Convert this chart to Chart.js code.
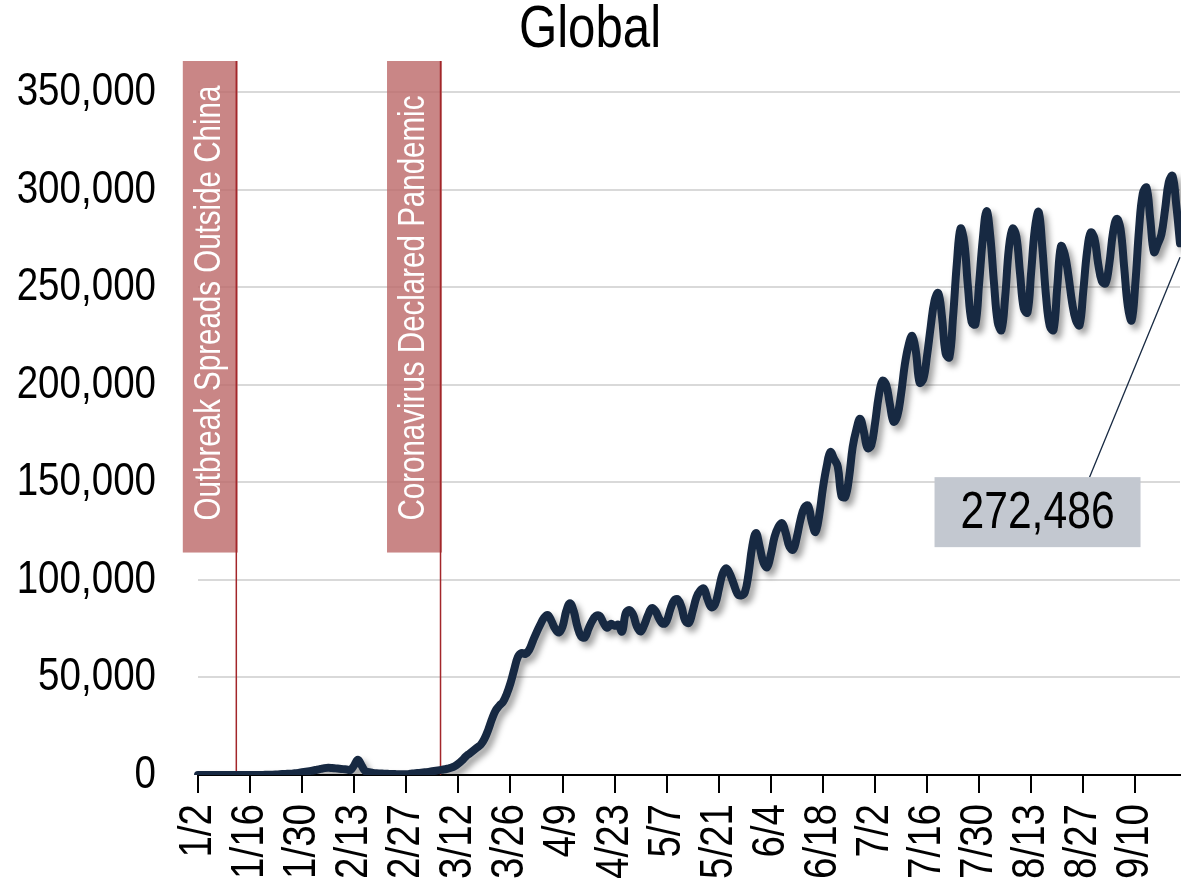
<!DOCTYPE html>
<html>
<head>
<meta charset="utf-8">
<script src="https://cdn.jsdelivr.net/npm/chart.js@4.4.0/dist/chart.umd.min.js"></script>
<style>
  html, body { margin: 0; padding: 0; background: #fff; overflow: hidden; }
  #wrap { width: 1181px; height: 882px; }
</style>
</head>
<body>
<div id="wrap"><canvas id="c" width="1181" height="882"></canvas></div>
<script>
// Daily new cases, global, one value per day starting 2020-01-02
const startDate = [2020, 0, 2];
const dailyCases = [
  0, 0, 0, 0, 0, 0, 0, 0, 0, 0,
  0, 0, 0, 0, 0, 0, 0, 0, 100, 150,
  150, 250, 400, 500, 600, 700, 900, 1100, 1400, 1700,
  2000, 2300, 2700, 3100, 3500, 3700, 3600, 3400, 3200, 3000,
  2800, 2600, 5000, 7800, 4800, 1900, 1400, 1100, 900, 800,
  700, 600, 500, 450, 400, 400, 450, 600, 800, 1000,
  1200, 1400, 1600, 1900, 2200, 2500, 2800, 3200, 3700, 4500,
  5800, 7500, 9500, 11000, 12500, 14000, 15500, 18500, 23000, 28500,
  33000, 35500, 37500, 41500, 47000, 54000, 60500, 62500, 62000, 64000,
  68500, 73000, 77000, 80500, 82000, 79000, 75000, 73000, 76000, 84000,
  88000, 84000, 76000, 71000, 70500, 75000, 79000, 81500, 81500, 78000,
  75500, 77500, 76500, 77000, 73500, 83000, 84500, 82000, 76000, 73500,
  77000, 82000, 85500, 84000, 80000, 77500, 79000, 85000, 89500, 90000,
  86000, 79000, 78000, 84000, 91000, 94500, 95500, 90000, 86000, 87500,
  95000, 103000, 106000, 103000, 98000, 93000, 92000, 93500, 103000, 117000,
  124000, 117000, 109000, 106500, 113000, 122000, 127000, 129000, 124000, 117000,
  115500, 122000, 131000, 137000, 138000, 130000, 124500, 133000, 147000, 158000,
  165500, 162000, 158000, 143000, 142500, 152000, 168000, 177000, 182500, 176000,
  167500, 169000, 180000, 194000, 202000, 200000, 190000, 181000, 184000, 195000,
  210000, 220000, 225000, 217000, 201000, 203000, 215000, 230000, 243000, 247000,
  235000, 216000, 214000, 235000, 262000, 280000, 273000, 250000, 232000, 231000,
  252000, 275000, 289000, 276000, 252000, 232000, 228000, 245000, 270000, 280000,
  276000, 257000, 239000, 237000, 258000, 280000, 288500, 270000, 245000, 230000,
  228000, 250000, 271000, 267000, 256000, 242000, 233000, 230500, 248000, 268000,
  278000, 275000, 262000, 253000, 252000, 262000, 278000, 285000, 280000, 260000,
  240000, 233000, 252000, 280000, 298000, 301000, 285000, 268000, 272000, 277000,
  290000, 304000, 307000, 292000, 272486
];

// Dates shown on the horizontal axis (every two weeks)
const tickLabels = ['1/2', '1/16', '1/30', '2/13', '2/27', '3/12', '3/26', '4/9', '4/23',
  '5/7', '5/21', '6/4', '6/18', '7/2', '7/16', '7/30', '8/13', '8/27', '9/10'];

// Marked events: position in days after 1/2 and caption
const eventDays = [10.3, 65.2];
const eventLabels = ['Outbreak Spreads Outside China', 'Coronavirus Declared Pandemic'];

// Category labels "m/d" for each day of the series
const dayLabels = dailyCases.map((_, i) => {
  const d = new Date(startDate[0], startDate[1], startDate[2] + i);
  return (d.getMonth() + 1) + '/' + d.getDate();
});

const FONT = "'Liberation Sans', Arial, sans-serif";
const NARROW = 0.82; // horizontal squeeze giving a condensed face

const canvas = document.getElementById('c');
const ctx2d = canvas.getContext('2d');
// Condensed lettering: every string is drawn squeezed along its own baseline
const plainFillText = CanvasRenderingContext2D.prototype.fillText;
ctx2d.fillText = function (text, x, y, maxWidth) {
  this.save();
  this.translate(x, y);
  this.scale(NARROW, 1);
  plainFillText.call(this, text, 0, 0);
  this.restore();
};

const decorations = {
  id: 'decorations',
  beforeDatasetsDraw(chart, args, opts) {
    const { ctx, chartArea, scales: { x, y } } = chart;
    const top = chartArea.top - opts.boxRise;
    const bottom = y.getPixelForValue(opts.boxFloor);
    eventDays.forEach((day, i) => {
      const px = x.getPixelForValue(day);
      ctx.save();
      ctx.fillStyle = 'rgba(188,104,104,0.8)';
      ctx.fillRect(px - opts.boxWidth + 1.5, top, opts.boxWidth, bottom - top);
      ctx.strokeStyle = '#a3262a';
      ctx.lineWidth = 1.5;
      ctx.beginPath();
      ctx.moveTo(px, top);
      ctx.lineTo(px, chartArea.bottom);
      ctx.stroke();
      ctx.translate(px - opts.boxWidth / 2 + 1.5, bottom - 32);
      ctx.rotate(-Math.PI / 2);
      ctx.fillStyle = '#ffffff';
      ctx.font = '36px ' + FONT;
      ctx.textAlign = 'left';
      ctx.textBaseline = 'middle';
      ctx.fillText(eventLabels[i], 0, 0);
      ctx.restore();
    });
  },
  beforeDatasetDraw(chart) {
    const ctx = chart.ctx;
    ctx.save();
    ctx.shadowColor = 'rgba(0,0,0,0.38)';
    ctx.shadowBlur = 6;
    ctx.shadowOffsetX = 4;
    ctx.shadowOffsetY = 5;
  },
  afterDatasetDraw(chart) {
    chart.ctx.restore();
  },
  afterDatasetsDraw(chart, args, opts) {
    const { ctx, scales: { x, y } } = chart;
    const last = dailyCases.length - 1;
    const lx = x.getPixelForValue(last);
    const ly = y.getPixelForValue(dailyCases[last]);
    const cx = x.getPixelForValue(opts.labelDay);
    const cy = y.getPixelForValue(opts.labelValue);
    const w = 206, h = 70;
    ctx.save();
    // leader from the label to the latest value
    ctx.strokeStyle = '#172942';
    ctx.lineWidth = 1.3;
    ctx.beginPath();
    ctx.moveTo(cx + 52, cy - h / 2);
    ctx.lineTo(lx, ly + 14);
    ctx.stroke();
    ctx.fillStyle = '#c3c8d0';
    ctx.fillRect(cx - w / 2, cy - h / 2, w, h);
    ctx.fillStyle = '#000';
    ctx.font = '52px ' + FONT;
    ctx.textAlign = 'center';
    ctx.textBaseline = 'middle';
    ctx.fillText(dailyCases[last].toLocaleString('en-US'), cx, cy + 2);
    ctx.restore();
  }
};

new Chart(canvas, {
  type: 'line',
  data: {
    labels: dayLabels,
    datasets: [{
      data: dailyCases,
      borderColor: '#172942',
      borderWidth: 8,
      pointRadius: 0,
      tension: 0.4,
      fill: false,
      borderJoinStyle: 'round',
      borderCapStyle: 'round'
    }]
  },
  options: {
    responsive: false,
    animation: false,
    devicePixelRatio: 1,
    layout: { padding: { left: 0, right: 1, top: 0, bottom: 0 } },
    plugins: {
      legend: { display: false },
      tooltip: { enabled: false },
      title: {
        display: true,
        text: 'Global',
        color: '#000',
        font: { family: FONT, size: 60, weight: 'normal', lineHeight: 1 },
        padding: { top: 0, bottom: 32 }
      },
      decorations: { boxRise: 31, boxFloor: 114000, boxWidth: 55, labelDay: 225.7, labelValue: 134700 }
    },
    scales: {
      x: {
        offset: false,
        grid: { drawOnChartArea: false, drawTicks: true, tickLength: 18, color: '#000', lineWidth: 2 },
        border: { display: true, color: '#000', width: 2 },
        ticks: {
          autoSkip: false, maxRotation: 90, minRotation: 90, padding: 11,
          color: '#000', font: { family: FONT, size: 47 }
        },
        afterBuildTicks: s => { s.ticks = s.ticks.filter(t => tickLabels.includes(dayLabels[t.value])); },
        afterFit: s => { s.height = 107; s.paddingLeft = 0; s.paddingRight = 0; }
      },
      y: {
        min: 0, max: 350000,
        grid: { color: '#d9d9d9', lineWidth: 2, drawTicks: false },
        border: { display: false },
        ticks: {
          stepSize: 50000, padding: 42, color: '#000',
          font: { family: FONT, size: 47 },
          callback: v => v.toLocaleString('en-US')
        },
        afterFit: s => { s.width = 198; s.paddingTop = 0; s.paddingBottom = 0; }
      }
    }
  },
  plugins: [decorations]
});
</script>
</body>
</html>
